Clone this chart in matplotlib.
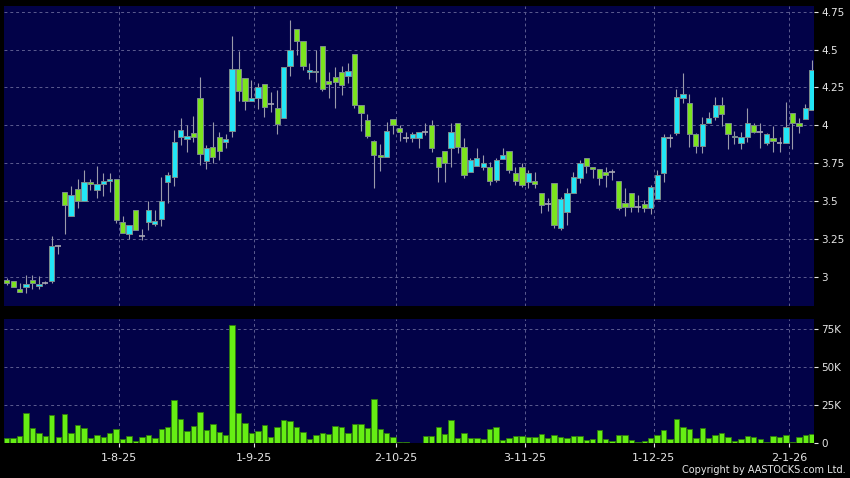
import numpy as np
import pandas as pd
import matplotlib
matplotlib.use("Agg")
import matplotlib.pyplot as plt

# daily prices (Jul 9 2025 -> Jan 8 2026)
opens = [2.982, 2.974, 2.923, 2.934, 2.982, 2.943, 2.960, 2.974, 3.206, 3.561,
         3.401, 3.581, 3.500, 3.625, 3.575, 3.612, 3.632, 3.647, 3.364, 3.285,
         3.443, 3.272, 3.362, 3.349, 3.382, 3.629, 3.658, 3.921, 3.908, 3.947,
         4.178, 3.768, 3.855, 3.925, 3.893, 3.960, 4.375, 4.314, 4.162, 4.178,
         4.276, 4.138, 4.118, 4.046, 4.390, 4.638, 4.557, 4.353, 4.349, 4.522,
         4.292, 4.320, 4.349, 4.329, 4.474, 4.132, 4.035, 3.895, 3.803, 3.790,
         4.040, 3.982, 3.914, 3.914, 3.914, 3.958, 4.000, 3.789, 3.829, 3.849,
         4.013, 3.860, 3.693, 3.732, 3.724, 3.728, 3.640, 3.781, 3.829, 3.689,
         3.728, 3.627, 3.632, 3.553, 3.480, 3.623, 3.320, 3.432, 3.553, 3.651,
         3.783, 3.724, 3.710, 3.691, 3.693, 3.632, 3.491, 3.553, 3.460, 3.480,
         3.454, 3.513, 3.689, 3.919, 3.952, 4.184, 4.151, 3.941, 3.864, 4.013,
         4.053, 4.132, 4.013, 3.921, 3.882, 3.921, 4.000, 3.956, 3.882, 3.914,
         3.882, 3.882, 4.079, 4.013, 4.039, 4.101]
highs = [2.996, 2.975, 2.963, 3.015, 3.015, 3.004, 2.975, 3.268, 3.213, 3.561,
         3.603, 3.647, 3.708, 3.647, 3.735, 3.686, 3.686, 3.647, 3.400, 3.344,
         3.443, 3.316, 3.502, 3.443, 3.662, 3.690, 3.969, 4.050, 4.002, 4.061,
         4.320, 3.871, 4.024, 3.958, 3.943, 4.588, 4.490, 4.314, 4.298, 4.280,
         4.276, 4.220, 4.232, 4.386, 4.697, 4.638, 4.557, 4.414, 4.500, 4.522,
         4.353, 4.386, 4.390, 4.412, 4.474, 4.132, 4.075, 3.904, 3.878, 4.024,
         4.040, 4.002, 3.954, 3.954, 3.958, 4.013, 4.035, 3.789, 3.829, 4.013,
         4.013, 3.914, 3.783, 3.849, 3.805, 3.761, 3.783, 3.849, 3.829, 3.728,
         3.750, 3.706, 3.695, 3.553, 3.520, 3.623, 3.530, 3.586, 3.690, 3.772,
         3.783, 3.724, 3.710, 3.728, 3.715, 3.632, 3.586, 3.553, 3.542, 3.509,
         3.607, 3.706, 3.943, 3.943, 4.243, 4.346, 4.210, 3.950, 4.057, 4.090,
         4.189, 4.189, 4.013, 3.963, 3.958, 4.112, 4.013, 4.018, 3.952, 3.996,
         3.921, 4.156, 4.079, 4.050, 4.140, 4.430]
lows = [2.945, 2.933, 2.900, 2.895, 2.923, 2.923, 2.955, 2.960, 3.154, 3.285,
        3.401, 3.456, 3.500, 3.575, 3.520, 3.533, 3.559, 3.355, 3.292, 3.248,
        3.311, 3.246, 3.311, 3.338, 3.338, 3.487, 3.603, 3.870, 3.827, 3.893,
        3.739, 3.715, 3.750, 3.772, 3.849, 3.925, 4.162, 4.100, 4.160, 4.105,
        4.057, 4.090, 3.943, 4.046, 4.327, 4.463, 4.364, 4.305, 4.287, 4.226,
        4.184, 4.112, 4.200, 4.280, 4.112, 3.963, 3.920, 3.585, 3.702, 3.790,
        3.940, 3.899, 3.893, 3.893, 3.849, 3.936, 3.827, 3.629, 3.629, 3.728,
        3.820, 3.651, 3.693, 3.732, 3.706, 3.607, 3.629, 3.781, 3.684, 3.605,
        3.592, 3.586, 3.586, 3.421, 3.434, 3.322, 3.310, 3.340, 3.553, 3.623,
        3.684, 3.651, 3.607, 3.592, 3.640, 3.443, 3.400, 3.432, 3.432, 3.432,
        3.417, 3.513, 3.629, 3.860, 3.936, 4.145, 3.860, 3.820, 3.820, 4.013,
        4.035, 3.996, 3.842, 3.877, 3.846, 3.893, 3.947, 3.849, 3.871, 3.827,
        3.827, 3.882, 3.842, 3.952, 4.039, 4.101]
closes = [2.960, 2.934, 2.901, 2.956, 2.960, 2.956, 2.960, 3.206, 3.206, 3.474,
          3.542, 3.500, 3.625, 3.612, 3.614, 3.632, 3.647, 3.373, 3.292, 3.344,
          3.311, 3.272, 3.441, 3.371, 3.504, 3.671, 3.888, 3.969, 3.930, 3.925,
          3.809, 3.849, 3.790, 3.833, 3.908, 4.375, 4.230, 4.164, 4.178, 4.250,
          4.123, 4.138, 4.009, 4.386, 4.500, 4.557, 4.393, 4.367, 4.358, 4.241,
          4.272, 4.283, 4.265, 4.360, 4.136, 4.079, 3.930, 3.803, 3.790, 3.960,
          4.000, 3.954, 3.914, 3.941, 3.958, 3.958, 3.849, 3.728, 3.750, 3.958,
          3.860, 3.673, 3.770, 3.783, 3.750, 3.632, 3.770, 3.803, 3.706, 3.632,
          3.605, 3.689, 3.614, 3.474, 3.480, 3.342, 3.513, 3.553, 3.662, 3.750,
          3.732, 3.710, 3.651, 3.670, 3.693, 3.454, 3.460, 3.460, 3.460, 3.456,
          3.592, 3.671, 3.921, 3.919, 4.189, 4.206, 3.941, 3.864, 4.009, 4.050,
          4.132, 4.072, 3.941, 3.932, 3.921, 4.018, 3.956, 3.956, 3.941, 3.899,
          3.882, 3.991, 4.013, 3.996, 4.116, 4.368]
# volume in thousands of shares
volumes = [3.7, 3.3, 4.8, 20.0, 10.0, 6.6, 5.0, 18.6, 4.4, 19.3,
           7.0, 12.0, 10.3, 3.5, 5.3, 4.2, 7.0, 9.6, 2.9, 5.0,
           1.8, 3.9, 5.7, 3.5, 9.4, 10.7, 28.5, 16.2, 8.1, 11.4,
           20.4, 8.8, 12.5, 7.5, 5.7, 77.6, 19.7, 13.6, 6.8, 8.3,
           11.8, 4.2, 10.5, 15.4, 14.5, 10.5, 7.5, 2.9, 5.3, 6.6,
           6.1, 11.2, 11.0, 6.6, 12.7, 12.5, 10.3, 28.9, 9.4, 6.8,
           4.2, 1.1, 0.7, 0.4, 0.4, 4.8, 4.8, 10.7, 6.4, 15.1,
           3.5, 6.8, 3.5, 3.5, 2.9, 9.4, 10.5, 2.4, 3.7, 4.8,
           4.6, 4.4, 4.4, 5.9, 3.5, 5.3, 4.4, 3.3, 4.6, 4.8,
           2.4, 2.6, 8.6, 2.9, 1.5, 5.5, 5.5, 2.4, 0.7, 1.8,
           3.5, 5.5, 9.0, 2.9, 16.2, 10.5, 9.6, 3.5, 9.9, 3.5,
           5.3, 7.0, 4.4, 1.8, 2.6, 5.0, 3.9, 3.1, 0.9, 4.8,
           3.9, 5.5, 0.9, 4.4, 5.7, 5.9]

hk_holidays = ["2025-10-01", "2025-10-07", "2025-10-29", "2025-12-25", "2025-12-26", "2026-01-01"]
dates = pd.bdate_range("2025-07-09", "2026-01-08")
dates = dates[~dates.isin(pd.to_datetime(hk_holidays))]

price_ticks = [3, 3.25, 3.5, 3.75, 4, 4.25, 4.5, 4.75]
vol_ticks = [0, 25, 50, 75]
vol_labels = ["0", "25K", "50K", "75K"]

UP = "#22E6F6"
DOWN = "#7CE41E"
NAVY = "#020248"
GRID = "#5C5C90"
TXT = "#E6E6E6"

o = np.array(opens)
h = np.array(highs)
l = np.array(lows)
c = np.array(closes)
v = np.array(volumes)
x = np.arange(len(o))

# first trading day of each month (skip the partial first month)
month_idx = [i for i in range(1, len(dates)) if dates[i].month != dates[i - 1].month]
month_lbl = [f"{dates[i].day}-{dates[i].month}-{dates[i]:%y}" for i in month_idx]
month_pos = [i + 0.45 for i in month_idx]

fig = plt.figure(figsize=(8.5, 4.78), dpi=100, facecolor="black")
W, H = 850, 478
ax = fig.add_axes([4 / W, 1 - 306 / H, 810 / W, 300 / H])
axv = fig.add_axes([4 / W, 1 - 443.3 / H, 810 / W, 124.3 / H])

for a in (ax, axv):
    a.set_facecolor(NAVY)
    for s in a.spines.values():
        s.set_visible(False)
    a.set_xlim(-0.42, 125.35)
    a.yaxis.tick_right()
    a.tick_params(axis="y", colors=TXT, labelsize=7.5, length=3, width=0.8, pad=2)
    a.set_xticks(month_pos)
    a.grid(True, color=GRID, linestyle=(0, (3, 3)), linewidth=0.7)
    a.set_axisbelow(True)

# candles
up = c > o
flat = np.isclose(c, o)
ax.vlines(x, l, h, color="#9A9AAA", linewidth=0.8, zorder=2)
body_lo = np.minimum(o, c)
body_h = np.maximum(np.abs(c - o), 0.008)
cols = np.where(up, UP, DOWN)
mask = ~flat
ax.bar(x[mask], body_h[mask], bottom=body_lo[mask], width=0.82, color=cols[mask],
       edgecolor="#7C8C8C", linewidth=0.7, zorder=3)
ax.hlines(c[flat], x[flat] - 0.45, x[flat] + 0.45, color="#A8A8B4", linewidth=1.2, zorder=3)

ax.set_ylim(2.8087, 4.7876)
ax.set_yticks(price_ticks)
ax.set_yticklabels([f"{t:g}" for t in price_ticks])
ax.tick_params(axis="x", length=0, labelbottom=False)

# volume
axv.bar(x, v, width=0.84, color="#66EE14", edgecolor="#2E7A0C", linewidth=0.6, zorder=3)
axv.set_ylim(0, 81.8)
axv.set_yticks(vol_ticks)
axv.set_yticklabels(vol_labels)
axv.set_xticklabels(month_lbl)
axv.tick_params(axis="x", colors=TXT, labelsize=8, length=3, width=0.8, pad=4)

fig.text(846 / W, 1 - 470 / H, "Copyright by AASTOCKS.com Ltd.", color=TXT,
         fontsize=7, ha="right", va="center")

fig.savefig("out.png", dpi=100, facecolor="black")
